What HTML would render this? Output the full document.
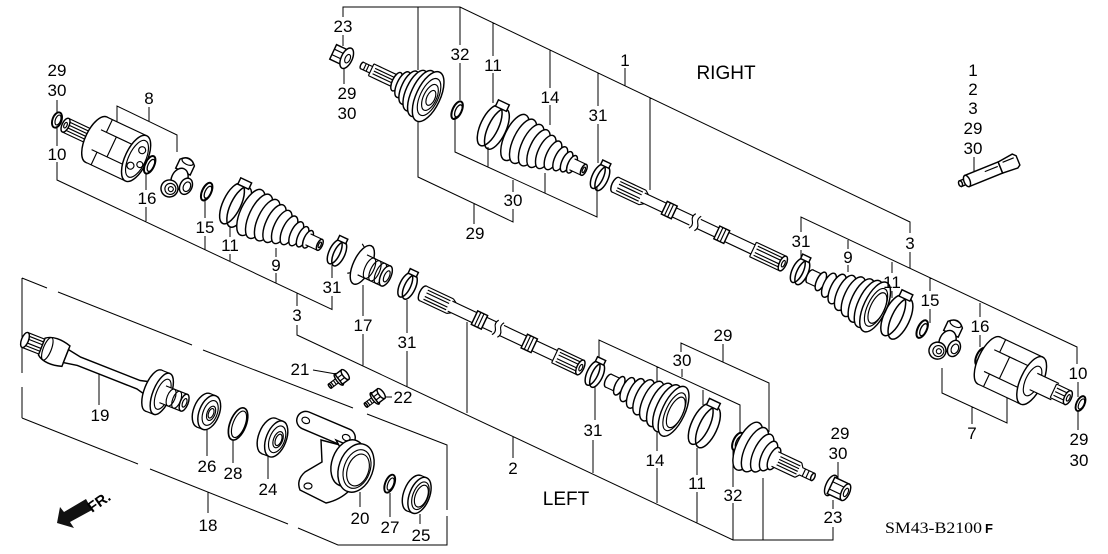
<!DOCTYPE html>
<html><head><meta charset="utf-8"><style>
html,body{margin:0;padding:0;background:#fff;}
svg{display:block}
.p{fill:#fff;stroke:#000;stroke-width:1.45}
.n{fill:none;stroke:#000;stroke-width:1.15}
.l{fill:none;stroke:#000;stroke-width:1}
text{font-family:"Liberation Sans",Arial,sans-serif;font-size:17px;fill:#000;text-anchor:middle}
</style></head><body>
<svg width="1108" height="554" viewBox="0 0 1108 554" xmlns="http://www.w3.org/2000/svg">
<defs>
<g id="bootA">
 <ellipse class="p" cx="0" rx="10.5" ry="25"/>
 <ellipse class="p" cx="9" rx="10" ry="24"/>
 <ellipse class="p" cx="18" rx="9.5" ry="22.5"/>
 <ellipse class="p" cx="26" rx="8.6" ry="20.5"/>
 <ellipse class="p" cx="34" rx="7.6" ry="18"/>
 <ellipse class="p" cx="42" rx="6.5" ry="15.5"/>
 <ellipse class="p" cx="50" rx="5.5" ry="13"/>
 <ellipse class="p" cx="57" rx="4.6" ry="11"/>
 <ellipse class="p" cx="63" rx="4" ry="9.5"/>
 <rect fill="#fff" x="63" y="-6" width="13" height="12"/>
 <path class="n" d="M63,-6H76M63,6H76"/>
 <ellipse class="p" cx="76" rx="2.6" ry="6"/>
 <ellipse class="n" cx="76" rx="1.2" ry="3"/>
</g>
<g id="bootB">
 <ellipse class="p" cx="0" rx="3" ry="7"/>
 <rect fill="#fff" x="0" y="-7" width="13" height="14"/>
 <path class="n" d="M0,-7H13M0,7H13"/>
 <ellipse class="p" cx="12" rx="4.2" ry="10"/>
 <ellipse class="p" cx="21" rx="5.5" ry="13"/>
 <ellipse class="p" cx="30" rx="6.7" ry="16"/>
 <ellipse class="p" cx="39" rx="8" ry="19"/>
 <ellipse class="p" cx="48" rx="9" ry="21.5"/>
 <ellipse class="p" cx="57" rx="9.9" ry="23.5"/>
 <ellipse class="p" cx="65" rx="10.7" ry="25.5"/>
 <ellipse class="p" cx="72" rx="11.3" ry="27"/>
 <ellipse class="n" cx="73" rx="8.5" ry="20.5"/>
 <ellipse class="n" cx="74.5" rx="7" ry="16.5"/>
</g>
<g id="clipL">
 <ellipse class="n" cx="-4" rx="9" ry="22" style="stroke-width:1.5"/>
 <ellipse class="n" cx="4" rx="9" ry="22" style="stroke-width:1.5"/>
 <rect class="p" x="-7" y="-27" width="12" height="7"/>
</g>
<g id="clipS">
 <ellipse class="n" cx="-2.5" rx="5.5" ry="13" style="stroke-width:1.5"/>
 <ellipse class="n" cx="2.5" rx="5.5" ry="13" style="stroke-width:1.5"/>
 <rect class="p" x="-5" y="-17" width="9" height="5"/>
</g>
<g id="ring">
 <ellipse class="n" cx="0" rx="4.5" ry="9.5" style="stroke-width:2"/>
 <ellipse class="n" cx="1.5" rx="3" ry="6.5" style="stroke-width:1.3"/>
</g>
<g id="spider">
 <path class="p" d="M-8,-8 L-8,-18 Q0,-27 8,-18 L8,-8 Z"/>
 <ellipse class="n" cx="0" cy="-19" rx="6" ry="3"/>
 <ellipse class="p" cx="0" rx="8" ry="11"/>
 <ellipse class="p" cx="9" cy="4" rx="6" ry="8.5"/>
 <ellipse class="n" cx="10" cy="4" rx="3.5" ry="5"/>
 <ellipse class="p" cx="-5" cy="13" rx="8.5" ry="8.5"/>
 <ellipse class="n" cx="-4" cy="13" rx="5.5" ry="5.5"/>
 <ellipse class="n" cx="-3.5" cy="13" rx="2.5" ry="2.5"/>
</g>
<g id="nut">
 <rect class="p" x="-12" y="-8" width="11" height="16"/>
 <path class="n" d="M-12,-3H-1M-12,3H-1"/>
 <ellipse class="p" cx="3" rx="5.5" ry="11"/>
 <ellipse class="n" cx="4" rx="2.5" ry="4.5"/>
</g>
<g id="nut2">
 <ellipse class="p" cx="-8" rx="5" ry="11"/>
 <rect class="p" x="-8" y="-9" width="16" height="18"/>
 <path class="n" d="M-8,-4H8M-8,4H8"/>
 <ellipse class="p" cx="8" rx="4" ry="9"/>
 <ellipse class="n" cx="8.5" rx="2" ry="4.5"/>
</g>
<g id="bolt">
 <rect fill="#fff" x="-15" y="-2.5" width="11" height="5"/>
 <path class="n" d="M-15,-2.5H-4M-15,2.5H-4M-12,-2.5V2.5M-9,-2.5V2.5"/>
 <ellipse class="p" cx="-15" rx="1" ry="2.5"/>
 <ellipse class="p" cx="-4" rx="2.5" ry="7"/>
 <rect class="p" x="-4" y="-6" width="8" height="12"/>
 <path class="n" d="M-4,-2H4M-4,2H4"/>
 <ellipse class="p" cx="4" rx="2.5" ry="6"/>
</g>
</defs>

<!-- ================= leader lines ================= -->
<path class="l" d="
M57,100V113 M57,127V146 M57,162V180 L332,309.5 V296
M146,173V190 M146,207V222
M205,197V218 M205,236V250
M230,227V237 M230,254V262
M276,248V257 M276,273V283
M117,127V106 L177,135 V152 M149,107V121
M332,265V278
M297,293V306 M297,325V335 L733,540 H833 V527 M833,500V509
M363,285V316 M363,334V366
M407,300V333 M407,351V387
M467,322V413
M513,437V458
M595,387V420 M593,440V473
M657,427V451 M657,468V503
M697,448V475 M697,492V523
M733,448V487 M733,503V540
M763,478V540
M343,17V7 H460 L910,222 V233 M910,252V268
M343,35V46 M344,67V84
M418,7V70 M418,117V177 L513,222 V209 M474,203V224
M455,117V152 L597,217 V187 M488,147V167 M513,180V192 M545,173V193
M460,7V45 M460,63V100
M493,23V56 M493,73V103
M550,50V88 M550,105V125
M598,73V106 M598,124V163
M625,68V86
M650,98V190
M801,232V217 L1077,347 V364 M801,250V258
M848,240V249 M848,265V272
M892,262V273 M892,291V298
M930,278V291 M930,309V323
M980,303V317 M980,335V347
M1078,382V397 M1078,412V430
M942,368V393 L1007,423 V395 M972,407V424
M974,157V171
M681,352V343 L769,383 V432 M723,344V362 M682,369V377
M599,363V340 L740,405 V432 M657,367V382 M703,390V405
M838,462V478
M22,278V373 M22,387V418 M22,278L47,288 M58,292L192,345 M203,350L353,408 M367,414L447,445 V510 M447,516V545 H338 L298,528 M288,524L150,469 M138,464L22,418
M208,492V513 M99,373V405 M207,428V456 M233,440V463 M268,452V479 M360,492V507 M390,493V517 M420,514V524
M313,370L336,374 M385,397H392
"/>

<!-- ring 10 top-left -->
<ellipse class="n" cx="57" cy="120" rx="4.5" ry="8" transform="rotate(20 57 120)" style="stroke-width:1.9"/>
<ellipse class="n" cx="58" cy="120" rx="2.6" ry="5.2" transform="rotate(20 58 120)"/>

<!-- ================= RIGHT assembly ================= -->
<g transform="translate(344,57) rotate(25.2)">
 <use href="#nut"/>
 <ellipse class="p" cx="20" rx="1.5" ry="3.5"/>
 <rect fill="#fff" x="20" y="-3.5" width="11" height="7"/>
 <path class="n" d="M20,-3.5H31M20,3.5H31M23,-3.5V3.5M26,-3.5V3.5"/>
 <rect fill="#fff" x="30" y="-6.5" width="28" height="13"/>
 <path class="n" d="M30,-6.5H58M30,6.5H58M30,-6.5V6.5M33,-3H58M33,0H58M33,3H58"/>
 <ellipse class="p" cx="58" rx="4.2" ry="10"/>
 <ellipse class="p" cx="65" rx="5.9" ry="14"/>
 <ellipse class="p" cx="72" rx="7.6" ry="18"/>
 <ellipse class="p" cx="79" rx="9.2" ry="22"/>
 <ellipse class="p" cx="86" rx="10.5" ry="25"/>
 <ellipse class="p" cx="93" rx="12" ry="27"/>
 <ellipse class="n" cx="94" rx="9" ry="20"/>
 <ellipse class="n" cx="95" rx="6.5" ry="14"/>
 <ellipse class="n" cx="96" rx="4" ry="8"/>
 <use href="#ring" x="125"/>
 <use href="#clipL" x="165"/>
 <use href="#bootA" x="189"/>
 <use href="#clipS" x="283"/>
 <!-- shaft 1 -->
 <ellipse class="p" cx="300" rx="3.5" ry="8"/>
 <rect fill="#fff" x="300" y="-8" width="30" height="16"/>
 <path class="n" d="M300,-8H330M300,8H330M303,-5H328M303,-2H328M303,2H328M303,5H328M330,-8L334,-5M330,8L334,5"/>
 <rect fill="#fff" x="330" y="-5" width="124" height="10"/>
 <path class="n" d="M330,-5H454M330,5H454"/>
 <rect class="p" x="354" y="-7" width="11" height="14"/><path class="n" d="M357.5,-7V7M361,-7V7"/>
 <rect fill="#fff" x="384" y="-9" width="8" height="18"/>
 <path class="n" d="M385,-8q-3,4 0,8q3,4 0,8M391,-8q-3,4 0,8q3,4 0,8"/>
 <rect class="p" x="412" y="-7" width="11" height="14"/><path class="n" d="M415.5,-7V7M419,-7V7"/>
 <rect fill="#fff" x="452" y="-8" width="33" height="16"/>
 <path class="n" d="M452,-8H485M452,8H485M452,-8V8M455,-5H485M455,-2H485M455,2H485M455,5H485"/>
 <ellipse class="p" cx="485" rx="3.5" ry="8"/><ellipse class="n" cx="485.5" rx="1.5" ry="3.5"/>
 <use href="#clipS" x="504"/>
 <use href="#bootB" x="515"/>
 <use href="#clipL" x="611"/>
 <use href="#ring" x="639"/>
 <use href="#spider" x="667"/>
 <use href="#ring" x="704"/>
 <!-- housing 7 -->
 <ellipse class="p" cx="713" rx="11" ry="26"/>
 <rect fill="#fff" x="713" y="-26" width="47" height="52"/>
 <path class="n" d="M713,-26H760M713,26H760M713,-12H760M713,12H760M719,-26V-12M719,12V26M730,-12V12"/>
 <ellipse class="p" cx="760" rx="11" ry="26"/>
 <ellipse class="n" cx="761" rx="7" ry="16"/>
 <rect fill="#fff" x="762" y="-9" width="24" height="18"/><path class="n" d="M762,-9H786M762,9H786"/>
 <rect fill="#fff" x="784" y="-7.5" width="16" height="15"/>
 <path class="n" d="M784,-7.5H800M784,7.5H800M784,-7.5V7.5M786,-4H800M786,0H800M786,4H800"/>
 <ellipse class="p" cx="800" rx="3.5" ry="7.5"/><ellipse class="n" cx="800.5" rx="1.5" ry="3.5"/>
 <ellipse class="n" cx="814" rx="4" ry="8" style="stroke-width:1.9"/>
 <ellipse class="n" cx="815" rx="2.5" ry="5.5"/>
</g>

<!-- ================= LEFT assembly (top-left + lower) ================= -->
<g transform="translate(80,132) rotate(25.2)">
 <rect fill="#fff" x="-16" y="-7.5" width="32" height="15"/>
 <path class="n" d="M-16,-7.5H16M-16,7.5H16M-13,-4.5H14M-13,-1.5H14M-13,1.5H14M-13,4.5H14"/>
 <ellipse class="p" cx="-16" rx="3.5" ry="7.5"/><ellipse class="n" cx="-16" rx="1.5" ry="3"/>
 <ellipse class="p" cx="18" rx="11" ry="25"/>
 <rect fill="#fff" x="18" y="-25" width="44" height="50"/>
 <path class="n" d="M18,-25H62M18,25H62M24,-25V-11M24,11V25M18,-11H62M18,11H62M35,-11V11"/>
 <ellipse class="p" cx="62" rx="11" ry="25"/>
 <ellipse class="n" cx="63" rx="8.5" ry="20"/>
 <circle class="n" cx="64" cy="-10" r="3.5"/><circle class="n" cx="60" cy="9" r="3.5"/><circle class="n" cx="68" cy="4" r="3"/>
 <use href="#ring" x="77"/>
 <use href="#spider" x="110"/>
 <use href="#ring" x="140"/>
 <use href="#clipL" x="172"/>
 <use href="#bootA" x="189"/>
 <use href="#clipS" x="284"/>
 <!-- part 17 -->
 <ellipse class="p" cx="312" rx="9" ry="21"/>
 <rect fill="#fff" x="312" y="-11" width="26" height="22"/>
 <path class="n" d="M312,-11H338M312,11H338M306,-17l-3,-2M305,12l-3,2"/>
 <ellipse class="n" cx="320" rx="4.5" ry="11"/><ellipse class="n" cx="326" rx="4.5" ry="11"/><ellipse class="n" cx="332" rx="4.5" ry="11"/>
 <ellipse class="p" cx="338" rx="5" ry="11"/><ellipse class="n" cx="339" rx="2.5" ry="6"/>
 <use href="#clipS" x="362"/>
 <!-- shaft 2 -->
 <ellipse class="p" cx="379" rx="3.5" ry="8"/>
 <rect fill="#fff" x="379" y="-8" width="30" height="16"/>
 <path class="n" d="M379,-8H409M379,8H409M382,-5H407M382,-2H407M382,2H407M382,5H407M409,-8L413,-5.5M409,8L413,5.5"/>
 <rect fill="#fff" x="409" y="-5.5" width="118" height="11"/>
 <path class="n" d="M409,-5.5H527M409,5.5H527"/>
 <rect class="p" x="436" y="-7.5" width="11" height="15"/><path class="n" d="M439.5,-7.5V7.5M443,-7.5V7.5"/>
 <rect fill="#fff" x="458" y="-9" width="8" height="18"/>
 <path class="n" d="M459,-8q-3,4 0,8q3,4 0,8M465,-8q-3,4 0,8q3,4 0,8"/>
 <rect class="p" x="491" y="-7.5" width="11" height="15"/><path class="n" d="M494.5,-7.5V7.5M498,-7.5V7.5"/>
 <rect fill="#fff" x="525" y="-8" width="28" height="16"/>
 <path class="n" d="M525,-8H553M525,8H553M525,-8V8M528,-5H553M528,-2H553M528,2H553M528,5H553"/>
 <ellipse class="p" cx="553" rx="3.5" ry="8"/><ellipse class="n" cx="553.5" rx="1.5" ry="3.5"/>
 <use href="#clipS" x="569"/>
 <use href="#bootB" x="584"/>
 <use href="#clipL" x="690"/>
 <use href="#ring" x="727"/>
 <!-- outer CV left -->
 <ellipse class="p" cx="738" rx="11" ry="26"/>
 <ellipse class="p" cx="746" rx="10" ry="24"/>
 <ellipse class="p" cx="754" rx="8.6" ry="20.5"/>
 <ellipse class="p" cx="761" rx="6.8" ry="16"/>
 <ellipse class="p" cx="767" rx="5" ry="12"/>
 <rect fill="#fff" x="768" y="-8" width="26" height="16"/>
 <path class="n" d="M768,-8H794M768,8H794M772,-4.5H794M772,-1.5H794M772,1.5H794M772,4.5H794"/>
 <rect fill="#fff" x="794" y="-4" width="16" height="8"/>
 <path class="n" d="M794,-8L797,-4H810M794,8L797,4H810M800,-4V4M804,-4V4"/>
 <ellipse class="p" cx="810" rx="1.8" ry="4"/>
 <use href="#nut2" x="838"/>
</g>

<!-- ================= group 18 ================= -->
<g transform="translate(25,340) rotate(21.5)">
 <rect fill="#fff" x="0" y="-8" width="20" height="16"/>
 <path class="n" d="M0,-8H20M0,8H20M3,-5H19M3,-2H19M3,2H19M3,5H19"/>
 <ellipse class="p" cx="0" rx="3.5" ry="8"/>
 <path class="p" d="M18,-9 C24,-14 34,-14 44,-11 L44,11 C34,14 24,14 18,9 Z"/>
 <ellipse class="n" cx="24" rx="4" ry="12"/>
 <path class="p" d="M44,-7 L58,-4.5 L122,-4.5 L136,-8 L136,8 L122,4.5 L58,4.5 L44,7 Z"/>
 <ellipse class="p" cx="138" rx="9" ry="22"/>
 <rect fill="#fff" x="138" y="-22" width="9" height="44"/>
 <path class="n" d="M138,-22H147M138,22H147"/>
 <ellipse class="p" cx="147" rx="9" ry="22"/>
 <ellipse class="n" cx="148" rx="6.5" ry="16"/>
 <rect fill="#fff" x="148" y="-9" width="23" height="18"/>
 <path class="n" d="M148,-9H171M148,9H171"/>
 <ellipse class="n" cx="157" rx="4" ry="9"/><ellipse class="n" cx="163" rx="4" ry="9"/>
 <ellipse class="p" cx="171" rx="4" ry="9"/><ellipse class="n" cx="171.5" rx="2" ry="4.5"/>
 <!-- seal 26 -->
 <ellipse class="p" cx="192" rx="10" ry="18"/>
 <rect fill="#fff" x="192" y="-18" width="6" height="36"/>
 <path class="n" d="M192,-18H198M192,18H198"/>
 <ellipse class="p" cx="198" rx="10" ry="18"/>
 <ellipse class="n" cx="199" rx="7" ry="13"/><ellipse class="n" cx="200" rx="4" ry="7.5"/><ellipse class="n" cx="200" rx="2.5" ry="5"/>
 <!-- ring 28 -->
 <ellipse class="n" cx="229" rx="8" ry="17" style="stroke-width:1.7"/>
 <ellipse class="n" cx="230" rx="6" ry="14"/>
 <!-- bearing 24 -->
 <ellipse class="p" cx="262" rx="10" ry="19"/>
 <rect fill="#fff" x="262" y="-19" width="8" height="38"/>
 <path class="n" d="M262,-19H270M262,19H270"/>
 <ellipse class="p" cx="270" rx="10" ry="19"/>
 <ellipse class="n" cx="271" rx="7.5" ry="14"/><ellipse class="n" cx="272" rx="4.5" ry="8.5"/><ellipse class="n" cx="272.5" rx="3" ry="6"/>
 <!-- clip 27 -->
 <ellipse class="n" cx="392" rx="4.5" ry="9.5" style="stroke-width:1.9"/>
 <ellipse class="n" cx="393" rx="2.8" ry="6.5"/>
 <!-- seal 25 -->
 <ellipse class="p" cx="418" rx="10" ry="19"/>
 <rect fill="#fff" x="418" y="-19" width="6" height="38"/>
 <path class="n" d="M418,-19H424M418,19H424"/>
 <ellipse class="p" cx="424" rx="10" ry="19"/>
 <ellipse class="n" cx="425" rx="7.5" ry="14.5"/><ellipse class="n" cx="426" rx="6" ry="11.5"/>
</g>

<!-- knuckle 20 -->
<path class="p" d="M321,440 L322,462 L305,472 Q296,480 300,490 L326,503 Q340,500 350,490 L344,446 Z"/>
<ellipse class="n" cx="308" cy="486" rx="4" ry="3"/>
<g transform="translate(326,429) rotate(23)">
 <rect class="p" x="-31" y="-9" width="62" height="18" rx="9"/>
 <ellipse class="n" cx="-22" rx="4" ry="3"/><ellipse class="n" cx="22" rx="4" ry="3"/>
</g>
<path class="p" d="M336,440 L352,447 L346,458 Z"/>
<ellipse class="p" cx="348" cy="463" rx="16" ry="24" transform="rotate(20 348 463)"/>
<ellipse class="p" cx="356" cy="468" rx="17" ry="25" transform="rotate(20 356 468)"/>
<ellipse class="n" cx="357" cy="469" rx="13" ry="20" transform="rotate(20 357 469)"/>
<ellipse class="n" cx="358" cy="470" rx="10.5" ry="16.5" transform="rotate(20 358 470)"/>

<!-- bolts 21 22 -->
<use href="#bolt" transform="translate(342,377) rotate(-37)"/>
<use href="#bolt" transform="translate(378,396) rotate(-37)"/>

<!-- grease tube -->
<g transform="translate(967,181) rotate(-22)">
 <rect class="p" x="-7" y="-3" width="7" height="6"/>
 <ellipse class="p" cx="-7" rx="1.8" ry="3"/>
 <rect class="p" x="0" y="-6" width="36" height="12"/>
 <ellipse class="p" cx="0" rx="3" ry="6"/>
 <path class="p" d="M36,-6 L52,-8 L55,-5 L55,5 L52,7 L36,6 Z"/>
 <path class="n" d="M40,-4H52M20,-2H34"/>
</g>

<!-- FR arrow -->
<polygon points="57,523 60,507 64,512 86,499 92,510 70,522 74,528" fill="#111"/>
<text x="0" y="0" transform="translate(92,513) rotate(-35)" style="font-size:15px;font-weight:bold;text-anchor:start">FR.</text>

<!-- ================= labels ================= -->
<text x="57" y="76">29</text><text x="57" y="96">30</text><text x="57" y="160">10</text>
<text x="149" y="104">8</text><text x="147" y="204">16</text><text x="205" y="233">15</text>
<text x="230" y="251">11</text><text x="276" y="271">9</text><text x="332" y="293">31</text>
<text x="297" y="321">3</text><text x="363" y="331">17</text><text x="407" y="348">31</text>
<text x="300" y="375">21</text><text x="403" y="403">22</text><text x="100" y="421">19</text>
<text x="207" y="472">26</text><text x="233" y="479">28</text><text x="268" y="495">24</text>
<text x="208" y="531">18</text><text x="360" y="524">20</text><text x="390" y="533">27</text>
<text x="421" y="541">25</text><text x="513" y="474">2</text>

<text x="343" y="32">23</text><text x="347" y="99">29</text><text x="347" y="119">30</text>
<text x="460" y="60">32</text><text x="493" y="71">11</text><text x="550" y="103">14</text>
<text x="598" y="121">31</text><text x="625" y="66">1</text><text x="513" y="206">30</text>
<text x="475" y="239">29</text>

<text x="973" y="76">1</text><text x="973" y="95">2</text><text x="973" y="114">3</text>
<text x="973" y="134">29</text><text x="973" y="154">30</text>
<text x="910" y="249">3</text><text x="801" y="247">31</text><text x="848" y="263">9</text>
<text x="892" y="288">11</text><text x="930" y="306">15</text><text x="980" y="332">16</text>
<text x="1078" y="379">10</text><text x="972" y="439">7</text>
<text x="1079" y="445">29</text><text x="1079" y="466">30</text>

<text x="723" y="341">29</text><text x="682" y="366">30</text><text x="593" y="436">31</text>
<text x="655" y="466">14</text><text x="697" y="489">11</text><text x="733" y="501">32</text>
<text x="840" y="439">29</text><text x="838" y="459">30</text><text x="833" y="523">23</text>

<text x="726" y="79" style="font-size:19px">RIGHT</text>
<text x="566" y="505" style="font-size:19px">LEFT</text>

<text x="885" y="533" textLength="97" lengthAdjust="spacingAndGlyphs" style="font-family:'Liberation Serif',serif;font-size:16px;text-anchor:start">SM43-B2100</text>
<text x="985" y="533" style="font-size:13px;font-weight:bold;text-anchor:start">F</text>
</svg>
</body></html>
